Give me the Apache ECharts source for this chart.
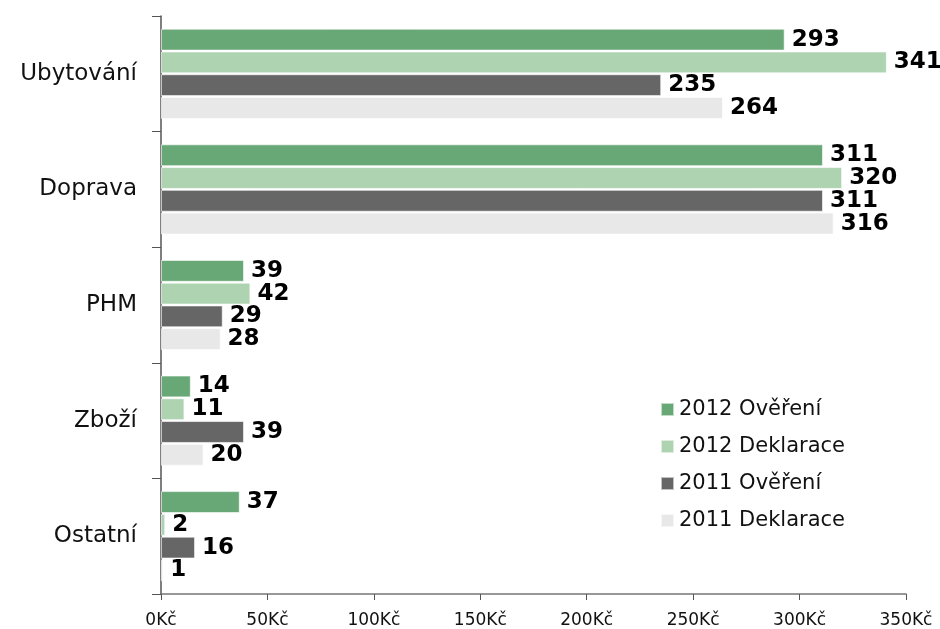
<!DOCTYPE html>
<html>
<head>
<meta charset="utf-8">
<title>Výdaje</title>
<script src="https://cdn.jsdelivr.net/npm/echarts@6/dist/echarts.min.js"></script>
</head>
<body style="margin:0">
<div id="chart" style="width:940px;height:629px"></div>
<script>
var categories = ['Ubytování', 'Doprava', 'PHM', 'Zboží', 'Ostatní'];
var seriesNames = ['2012 Ověření', '2012 Deklarace', '2011 Ověření', '2011 Deklarace'];
var overeni2012 = [293, 311, 39, 14, 37];
var deklarace2012 = [341, 320, 42, 11, 2];
var overeni2011 = [235, 311, 29, 39, 16];
var deklarace2011 = [264, 316, 28, 20, 1];
var xTicks = [0, 50, 100, 150, 200, 250, 300, 350];
var colors = ['#68a776', '#aed3b1', '#666666', '#e8e8e8'];

var font = 'DejaVu Sans, Verdana, sans-serif';
var chart = echarts.init(document.getElementById('chart'));

function makeSeries(name, data, i) {
    return {
        name: name,
        type: 'bar',
        data: data,
        barGap: '4%',
        barCategoryGap: '22%',
        itemStyle: { color: colors[i], borderColor: 'rgba(255,255,255,0.6)', borderWidth: 1 },
        label: {
            show: true,
            position: 'right',
            distance: 7,
            color: '#000',
            fontWeight: 'bold',
            fontSize: 23,
            fontFamily: font
        },
        animation: false
    };
}

var option = {
    color: colors,
    textStyle: { fontFamily: font },
    grid: { left: 161, right: 34, top: 16, bottom: 35 },
    legend: {
        orient: 'vertical',
        left: 655,
        top: 394,
        itemWidth: 13,
        itemHeight: 13,
        itemGap: 16,
        icon: 'rect',
        textStyle: { fontSize: 21, color: '#111', fontFamily: font },
        data: seriesNames
    },
    xAxis: {
        type: 'value',
        min: xTicks[0],
        max: xTicks[xTicks.length - 1],
        interval: 50,
        splitLine: { show: false },
        axisLine: { show: true, lineStyle: { color: '#777', width: 1.5 } },
        axisTick: { show: true, length: 6, lineStyle: { color: '#555' } },
        axisLabel: {
            color: '#111', fontSize: 17, fontFamily: font, margin: 18,
            formatter: function (v) { return v + 'Kč'; }
        }
    },
    yAxis: {
        type: 'category',
        inverse: true,
        data: categories,
        axisLine: { show: true, lineStyle: { color: '#555', width: 1.5 } },
        axisTick: { show: true, length: 9, lineStyle: { color: '#555' } },
        axisLabel: { color: '#111', fontSize: 23, fontFamily: font, margin: 24 }
    },
    series: [
        makeSeries(seriesNames[0], overeni2012, 0),
        makeSeries(seriesNames[1], deklarace2012, 1),
        makeSeries(seriesNames[2], overeni2011, 2),
        makeSeries(seriesNames[3], deklarace2011, 3)
    ]
};
chart.setOption(option);
</script>
</body>
</html>
